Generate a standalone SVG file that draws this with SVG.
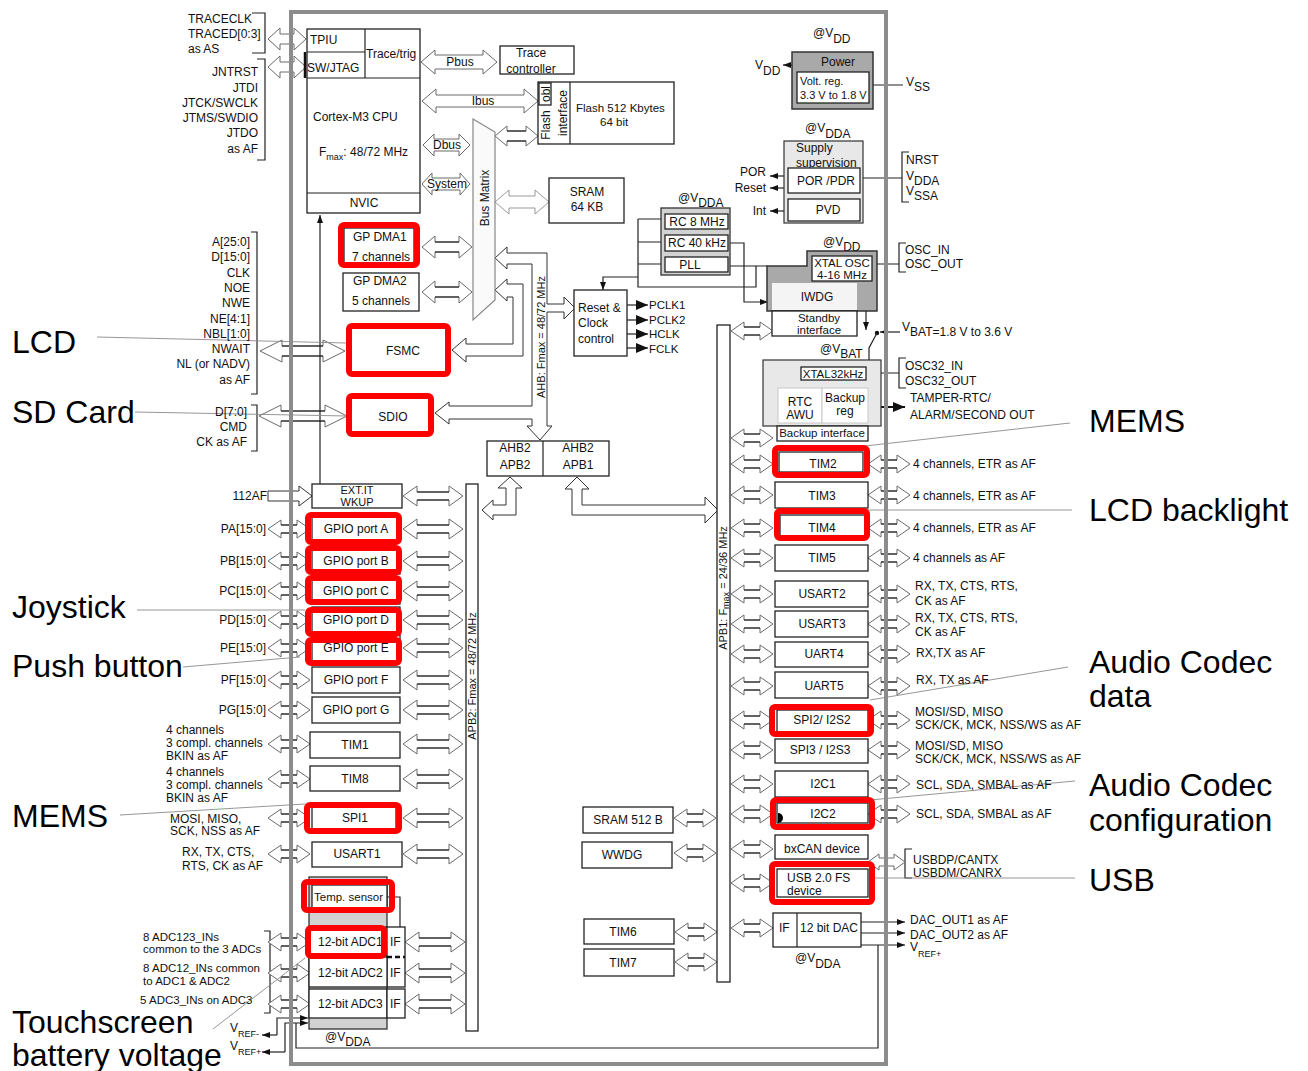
<svg xmlns="http://www.w3.org/2000/svg" width="1308" height="1071" viewBox="0 0 1308 1071">
<style>
text{font-family:"Liberation Sans",Arial,sans-serif;font-size:12px;fill:#111}
.s11{font-size:11px}
.s9{font-size:9px}
.big{font-size:32px;fill:#000}
.m{text-anchor:middle}
.r{text-anchor:end}
.bx{fill:#fff;stroke:#222;stroke-width:1.3}
.red{fill:none;stroke:#f00;stroke-width:6}
.ah{fill:#fff;stroke:#6a6a6a;stroke-width:1}
.sh{fill:none;stroke:#111;stroke-width:1.2}
.ln{fill:none;stroke:#222;stroke-width:1.2}
.ann{fill:none;stroke:#8a8a8a;stroke-width:0.9}
.g1{fill:#a9a9a9;stroke:#333;stroke-width:1.5}
.g2{fill:#d2d2d2;stroke:#333;stroke-width:1.3}
.g3{fill:#e8e8e8;stroke:#333;stroke-width:1.2}
.lt{fill:#fff;stroke:#c8c8c8;stroke-width:1}
</style>
<defs>
<g id="a42"><path class="ah" d="M0,0L13,-9V-4H29V-9L42,0L29,9V4H13V9Z"/><path class="sh" d="M13,-4H29M13,4H29"/></g>
<g id="a60"><path class="ah" d="M0,0L14,-10V-4H46V-10L60,0L46,10V4H14V10Z"/><path class="sh" d="M14,-4H46M14,4H46"/></g>
<marker id="ar" viewBox="0 0 8 6" refX="8" refY="3" markerWidth="8" markerHeight="6" markerUnits="userSpaceOnUse" orient="auto-start-reverse"><path d="M0,0L8,3L0,6Z" fill="#111"/></marker>
<marker id="ar2" viewBox="0 0 12 10" refX="12" refY="5" markerWidth="12" markerHeight="10" markerUnits="userSpaceOnUse" orient="auto-start-reverse"><path d="M0,0L12,5L0,10Z" fill="#111"/></marker>
</defs>
<rect width="1308" height="1071" fill="#fff"/>

<g id="connectors">
<!-- top pin arrows -->
<path class="ah" d="M268,39L280,28V34H294V28L306,39L294,50V44H280V50Z"/>
<path class="ah" d="M268,67L280,56V62H294V56L306,67L294,78V72H280V78Z"/>
<!-- brackets -->
<path class="ln" d="M252,13H265V53H252"/>
<path class="ln" d="M257,59H265V160H257"/>
<path class="ln" d="M251,232H257V394H251"/>
<path class="ln" d="M251,405H257V451H251"/>
<path class="ln" d="M264,931H270V1013H264"/>
<path class="ln" d="M909,152H902V202H909"/>
<path class="ln" d="M906,243H899V272H906"/>
<path class="ln" d="M906,358H899V388H906"/>
<path class="ln" d="M912,849H905V878H912"/>
<!-- CPU buses -->
<path class="ah" d="M421,62L435,50V55H483V50L497,62L483,74V69H435V74Z"/>
<path class="ah" d="M422,101L436,89V95H524V89L538,101L524,113V107H436V113Z"/>
<path class="ah" d="M423,145L434,134V139H459V134L470,145L459,156V151H434V156Z"/>
<path class="ah" d="M422,184L432,173V178H460V173L470,184L460,195V190H432V195Z"/>
<path class="ah" d="M495,136L507,126V131H526V126L538,136L526,146V141H507V146Z"/>
<path class="sh" d="M507,131H526M507,141H526"/>
<path class="ah" d="M495,202L509,190V196H535V190L549,202L535,214V208H509V214Z" style="stroke:#999"/>
<path class="ah" d="M422,247L435,236V242H459V236L472,247L459,258V252H435V258Z"/>
<path class="sh" d="M435,242H459M435,252H459"/>
<path class="ah" d="M422,292L435,281V287H459V281L472,292L459,303V297H435V303Z"/>
<path class="sh" d="M435,287H459M435,297H459"/>
<!-- AHB bus -->
<path class="ah" style="stroke:#333" d="M495,258L507,247V253H547V304H564V297L575,308L564,319V312H547V426H552L540,440L527,426H532V419H449V424L435,413L449,402V406H532V264H507V269Z"/>
<!-- FSMC L arrow -->
<path class="ah" style="stroke:#333" d="M495,290L507,279V284H523V356H466V362L452,350L466,338V344H513V297H507V301Z"/>
<!-- FSMC / SDIO pins -->
<path class="ah" d="M260,351L282,340V346H323V340L345,351L323,362V356H282V362Z"/>
<path class="sh" d="M282,346H323M282,356H323"/>
<path class="ah" d="M259,416L281,405V411H325V405L347,416L325,427V421H281V427Z"/>
<path class="sh" d="M281,411H325M281,421H325"/>
<!-- EXT IT -->
<path class="ah" style="stroke:#333" d="M268,491H299V486L312,496L299,506V501H268Z"/>
<path class="ln" d="M320,484V215" marker-end="url(#ar)"/>
<!-- left pins -->
<use href="#a60" x="403" y="496"/>
<use href="#a42" x="268" y="529"/><use href="#a60" x="403" y="529"/>
<use href="#a42" x="268" y="561"/><use href="#a60" x="403" y="561"/>
<use href="#a42" x="268" y="591"/><use href="#a60" x="403" y="591"/>
<use href="#a42" x="268" y="620"/><use href="#a60" x="403" y="620"/>
<use href="#a42" x="268" y="648"/><use href="#a60" x="403" y="648"/>
<use href="#a42" x="268" y="680"/><use href="#a60" x="403" y="680"/>
<use href="#a42" x="268" y="710"/><use href="#a60" x="403" y="710"/>
<use href="#a42" x="268" y="744"/><use href="#a60" x="403" y="744"/>
<use href="#a42" x="268" y="779"/><use href="#a60" x="403" y="779"/>
<use href="#a42" x="268" y="818"/><use href="#a60" x="403" y="818"/>
<use href="#a42" x="268" y="854"/><use href="#a60" x="403" y="854"/>
<use href="#a42" x="268" y="942"/><use href="#a60" x="405" y="942"/>
<use href="#a42" x="268" y="973"/><use href="#a60" x="405" y="973"/>
<use href="#a42" x="268" y="1004"/><use href="#a60" x="405" y="1004"/>
<!-- bridges to APB buses -->
<path class="ah" style="stroke:#333" d="M510,477L522,488H516V515H493V520L482,510L493,500V505H506V488H498Z"/>
<path class="ah" style="stroke:#333" d="M577,477L589,489H582V505H705V497L718,510L705,523V515H572V489H565Z"/>
<!-- clock tree -->
<path class="ln" d="M638,219V287H756V266M638,219H665M638,242H665M638,264H665M728,266H767"/>
<path class="ln" d="M638,277H603V290" marker-end="url(#ar)"/>
<path class="ln" d="M728,243H744V302H768" marker-end="url(#ar)"/>
<path class="ln" d="M627,305H648" marker-end="url(#ar2)"/>
<path class="ln" d="M627,320H648" marker-end="url(#ar2)"/>
<path class="ln" d="M627,334H648" marker-end="url(#ar2)"/>
<path class="ln" d="M627,348H648" marker-end="url(#ar2)"/>
<!-- power -->
<path class="ln" d="M792,65H783" marker-end="url(#ar)"/>
<path class="ln" d="M873,85H903M863,178H902M872,264H899M866,373H899"/>
<path class="ln" d="M784,176H770" marker-end="url(#ar)"/>
<path class="ln" d="M784,188H770" marker-end="url(#ar)"/>
<path class="ln" d="M784,211H770" marker-end="url(#ar)"/>
<path class="ln" d="M866,311V330" marker-end="url(#ar)"/>
<path class="ln" d="M900,332H880" marker-end="url(#ar)"/>
<circle cx="877" cy="333" r="2.2" fill="#111"/>
<path class="ln" d="M877,333L869,348V360"/>
<path class="ln" d="M801,374H793V388" marker-end="url(#ar)"/>
<path d="M868,407H905" stroke="#111" stroke-width="2" marker-start="url(#ar2)" marker-end="url(#ar2)"/>
<!-- APB1 side -->
<use href="#a42" x="731" y="331"/><use href="#a42" x="731" y="438"/>
<use href="#a42" x="731" y="464"/><use href="#a42" x="868" y="464"/>
<use href="#a42" x="731" y="495"/><use href="#a42" x="868" y="495"/>
<use href="#a42" x="731" y="528"/><use href="#a42" x="868" y="528"/>
<use href="#a42" x="731" y="558"/><use href="#a42" x="868" y="558"/>
<use href="#a42" x="731" y="594"/><use href="#a42" x="868" y="594"/>
<use href="#a42" x="731" y="624"/><use href="#a42" x="868" y="624"/>
<use href="#a42" x="731" y="654"/><use href="#a42" x="868" y="654"/>
<use href="#a42" x="731" y="686"/><use href="#a42" x="868" y="686"/>
<use href="#a42" x="731" y="720"/><use href="#a42" x="868" y="720"/>
<use href="#a42" x="731" y="750"/><use href="#a42" x="868" y="750"/>
<use href="#a42" x="731" y="784"/><use href="#a42" x="868" y="784"/>
<use href="#a42" x="731" y="814"/><use href="#a42" x="868" y="814"/>
<use href="#a42" x="731" y="849"/>
<use href="#a42" x="731" y="883"/>
<use href="#a42" x="731" y="928"/>
<path class="ah" d="M868,862L879,854V858H894V854L905,862L894,870V866H879V870Z"/>
<use href="#a42" x="674" y="818"/>
<use href="#a42" x="674" y="853"/>
<use href="#a42" x="675" y="932"/>
<use href="#a42" x="675" y="962"/>
<!-- DAC outputs and VREF -->
<path class="ln" d="M861,922H905" marker-end="url(#ar)"/>
<path class="ln" d="M861,933H905" marker-end="url(#ar)"/>
<path class="ln" d="M861,945H905" marker-end="url(#ar)"/>
<path class="ln" d="M878,945V1048H296V1023"/>
<path class="ln" d="M387,897H400V927"/>
<path class="ln" d="M277,1035H262" marker-end="url(#ar)"/>
<path class="ln" d="M277,1035V1018H308" marker-end="url(#ar)"/>
<path class="ln" d="M285,1052H262" marker-end="url(#ar)"/>
<path class="ln" d="M285,1052V1023H308" marker-end="url(#ar)"/>
<!-- annotation leader lines -->
<path class="ann" d="M97,337L347,343M135,412L347,416M137,610L305,610M183,667L300,657M120,815L305,804M213,1029L305,958M865,446L1070,423M868,510L1072,510M870,700L1068,667M870,800L1075,781M870,878L1075,878"/>
</g>

<g id="pins-trace">
<text x="188" y="23">TRACECLK</text>
<text x="188" y="38">TRACED[0:3]</text>
<text x="188" y="53">as AS</text>
</g>
<g id="pins-jtag">
<text class="r" x="258" y="76">JNTRST</text>
<text class="r" x="258" y="92">JTDI</text>
<text class="r" x="258" y="107">JTCK/SWCLK</text>
<text class="r" x="258" y="122">JTMS/SWDIO</text>
<text class="r" x="258" y="137">JTDO</text>
<text class="r" x="258" y="153">as AF</text>
</g>

<g id="cpu">
<rect class="bx" x="307" y="29" width="113" height="184"/>
<path class="ln" d="M365,29V78M307,52H365M307,78H420M307,193H420"/>
<path d="M305,52V78" stroke="#111" stroke-width="2.5"/>
<text x="310" y="44">TPIU</text>
<text x="307" y="72">SW/JTAG</text>
<text x="366" y="58">Trace/trig</text>
<text x="313" y="121">Cortex-M3 CPU</text>
<text x="319" y="156">F<tspan class="s9" dy="4">max</tspan><tspan dy="-4">: 48/72 MHz</tspan></text>
<text class="m" x="364" y="207">NVIC</text>
</g>
<g id="bus-labels">
<text class="m" x="460" y="66">Pbus</text>
<text class="m" x="483" y="105">Ibus</text>
<text class="m" x="447" y="149">Dbus</text>
<text class="m" x="447" y="188">System</text>
</g>
<g id="trace-controller">
<rect class="bx" x="500" y="46" width="74" height="28"/>
<text class="m" x="531" y="57">Trace</text>
<text class="m" x="531" y="73">controller</text>
</g>
<g id="flash">
<rect class="bx" x="538" y="82" width="136" height="62"/>
<path class="ln" d="M570,82V144"/>
<rect class="bx" x="539" y="83" width="12" height="22"/>
<text class="m" transform="translate(550,94) rotate(-90)">obl</text>
<text class="m" transform="translate(550,125) rotate(-90)">Flash</text>
<text class="m" transform="translate(567,113) rotate(-90)">interface</text>
<text x="576" y="112" style="font-size:11.5px">Flash 512 Kbytes</text>
<text x="600" y="126" style="font-size:11.5px">64 bit</text>
</g>
<g id="bus-matrix">
<path d="M473,119L495,132V300L473,320Z" fill="#fafafa" stroke="#888" stroke-width="1.2"/>
<text class="m" transform="translate(489,198) rotate(-90)">Bus Matrix</text>
</g>
<g id="sram">
<rect class="bx" x="549" y="178" width="75" height="45"/>
<text class="m" x="587" y="196">SRAM</text>
<text class="m" x="587" y="211">64 KB</text>
</g>
<g id="ahb-label">
<text class="m s11" transform="translate(545,337) rotate(-90)">AHB: Fmax = 48/72 MHz</text>
</g>
<g id="dma1">
<rect class="bx" x="344" y="228" width="70" height="36"/>
<text x="353" y="241">GP DMA1</text>
<text x="352" y="261">7 channels</text>
<rect class="red" x="341" y="225" width="76" height="40" rx="3"/>
</g>
<g id="dma2">
<rect class="bx" x="343" y="273" width="76" height="38"/>
<text x="353" y="285">GP DMA2</text>
<text x="352" y="305">5 channels</text>
</g>
<g id="fsmc">
<rect class="bx" x="349" y="326" width="99" height="48"/>
<text class="m" x="403" y="355">FSMC</text>
<rect class="red" x="349" y="326" width="99" height="48" rx="3"/>
</g>
<g id="sdio">
<rect class="bx" x="349" y="396" width="82" height="38"/>
<text class="m" x="393" y="421">SDIO</text>
<rect class="red" x="349" y="396" width="82" height="38" rx="3"/>
</g>
<g id="pins-fsmc">
<text class="r" x="250" y="246">A[25:0]</text>
<text class="r" x="250" y="261">D[15:0]</text>
<text class="r" x="250" y="277">CLK</text>
<text class="r" x="250" y="292">NOE</text>
<text class="r" x="250" y="307">NWE</text>
<text class="r" x="250" y="323">NE[4:1]</text>
<text class="r" x="250" y="338">NBL[1:0]</text>
<text class="r" x="250" y="353">NWAIT</text>
<text class="r" x="250" y="368">NL (or NADV)</text>
<text class="r" x="250" y="384">as AF</text>
</g>
<g id="pins-sdio">
<text class="r" x="247" y="416">D[7:0]</text>
<text class="r" x="247" y="431">CMD</text>
<text class="r" x="247" y="446">CK as AF</text>
</g>
<g id="reset-clock">
<rect class="bx" x="574" y="290" width="53" height="66"/>
<text x="578" y="312">Reset &amp;</text>
<text x="578" y="327">Clock</text>
<text x="578" y="343">control</text>
<text x="649" y="309" style="font-size:11.5px">PCLK1</text>
<text x="649" y="324" style="font-size:11.5px">PCLK2</text>
<text x="649" y="338" style="font-size:11.5px">HCLK</text>
<text x="649" y="353" style="font-size:11.5px">FCLK</text>
</g>
<g id="ahb-bridges">
<rect class="bx" x="487" y="441" width="122" height="35"/>
<path class="ln" d="M543,441V476"/>
<text class="m" x="515" y="452">AHB2</text>
<text class="m" x="515" y="469">APB2</text>
<text class="m" x="578" y="452">AHB2</text>
<text class="m" x="578" y="469">APB1</text>
</g>
<g id="rc-osc">
<text x="678" y="202">@V<tspan dy="5">DDA</tspan></text>
<rect class="g2" x="661" y="208" width="69" height="67"/>
<rect class="bx" x="665" y="214" width="63" height="15"/>
<text class="m" x="697" y="226">RC 8 MHz</text>
<rect class="bx" x="665" y="235" width="63" height="16"/>
<text class="m" x="697" y="247">RC 40 kHz</text>
<rect class="bx" x="665" y="257" width="63" height="15"/>
<text class="m" x="690" y="269">PLL</text>
</g>
<g id="xtal-osc">
<text x="823" y="246">@V<tspan dy="5">DD</tspan></text>
<path class="g1" d="M807,251H877V311H767V266H807Z"/>
<rect class="bx" x="812" y="256" width="60" height="25"/>
<text class="m" x="842" y="267" style="font-size:11.5px">XTAL OSC</text>
<text class="m" x="842" y="279" style="font-size:11.5px">4-16 MHz</text>
<rect x="772" y="283" width="85" height="27" fill="#f4f4f4"/>
<text class="m" x="817" y="301">IWDG</text>
<rect class="bx" x="772" y="311" width="85" height="25"/>
<text class="m" x="819" y="322" style="font-size:11.5px">Standby</text>
<text class="m" x="819" y="334" style="font-size:11.5px">interface</text>
<text x="905" y="254">OSC_IN</text>
<text x="905" y="268">OSC_OUT</text>
</g>
<g id="power">
<text x="813" y="37">@V<tspan dy="6">DD</tspan></text>
<rect class="g1" x="792" y="52" width="81" height="57"/>
<text class="m" x="838" y="66">Power</text>
<rect class="bx" x="797" y="72" width="72" height="31"/>
<text x="800" y="85" class="s11">Volt. reg.</text>
<text x="800" y="99" class="s11">3.3 V to 1.8 V</text>
<text x="755" y="69">V<tspan dy="6">DD</tspan></text>
<text x="906" y="86">V<tspan dy="5">SS</tspan></text>
</g>
<g id="supply">
<text x="805" y="132">@V<tspan dy="6">DDA</tspan></text>
<rect class="g3" x="784" y="141" width="79" height="82"/>
<text x="796" y="152">Supply</text>
<text x="796" y="167">supervision</text>
<rect class="bx" x="788" y="168" width="72" height="25"/>
<text class="m" x="826" y="185">POR /PDR</text>
<rect class="bx" x="788" y="199" width="72" height="22"/>
<text class="m" x="828" y="214">PVD</text>
<text class="r" x="766" y="176">POR</text>
<text class="r" x="766" y="192">Reset</text>
<text class="r" x="766" y="215">Int</text>
<text x="906" y="164">NRST</text>
<text x="906" y="180">V<tspan dy="5">DDA</tspan></text>
<text x="906" y="195">V<tspan dy="5">SSA</tspan></text>
</g>
<g id="vbat">
<text x="902" y="331">V<tspan dy="5">BAT=1.8 V to 3.6 V</tspan></text>
<text x="820" y="353">@V<tspan dy="5">BAT</tspan></text>
<rect class="g3" x="763" y="360" width="118" height="66"/>
<rect class="bx" x="801" y="367" width="65" height="13"/>
<text class="m" x="833" y="378" style="font-size:11.5px">XTAL32kHz</text>
<rect class="lt" x="778" y="388" width="44" height="35"/>
<text class="m" x="800" y="406">RTC</text>
<text class="m" x="800" y="419">AWU</text>
<rect class="lt" x="822" y="388" width="46" height="35"/>
<text class="m" x="845" y="402">Backup</text>
<text class="m" x="845" y="415">reg</text>
<rect class="bx" x="777" y="426" width="91" height="15"/>
<text class="m" x="822" y="437" style="font-size:11.5px">Backup interface</text>
<text x="905" y="370">OSC32_IN</text>
<text x="905" y="385">OSC32_OUT</text>
<text x="910" y="402">TAMPER-RTC/</text>
<text x="910" y="419">ALARM/SECOND OUT</text>
</g>

<g id="apb2-bus">
<rect class="bx" x="466" y="484" width="12" height="547"/>
<text class="m s11" transform="translate(476,676) rotate(-90)">APB2: Fmax = 48/72 MHz</text>
</g>
<g id="apb1-bus">
<rect class="bx" x="717" y="325" width="13" height="657"/>
<text class="m s11" transform="translate(727,588) rotate(-90)">APB1: F<tspan class="s9" dy="2">max</tspan><tspan dy="-2"> = 24/36 MHz</tspan></text>
</g>

<g id="extit">
<rect class="bx" x="312" y="484" width="90" height="24"/>
<text class="m s11" x="357" y="494">EXT.IT</text>
<text class="m s11" x="357" y="506">WKUP</text>
<text class="r" x="267" y="500">112AF</text>
</g>
<g id="gpio">
<rect class="bx" x="312" y="516" width="88" height="26"/><text class="m" x="356" y="533">GPIO port A</text>
<rect class="bx" x="312" y="548" width="88" height="26"/><text class="m" x="356" y="565">GPIO port B</text>
<rect class="bx" x="312" y="578" width="88" height="26"/><text class="m" x="356" y="595">GPIO port C</text>
<rect class="bx" x="312" y="607" width="88" height="26"/><text class="m" x="356" y="624">GPIO port D</text>
<rect class="bx" x="312" y="635" width="88" height="26"/><text class="m" x="356" y="652">GPIO port E</text>
<rect class="bx" x="312" y="667" width="88" height="26"/><text class="m" x="356" y="684">GPIO port F</text>
<rect class="bx" x="312" y="697" width="88" height="26"/><text class="m" x="356" y="714">GPIO port G</text>
<rect class="red" x="308" y="515" width="91" height="27" rx="3"/>
<rect class="red" x="308" y="548" width="91" height="24" rx="3"/>
<rect class="red" x="308" y="578" width="91" height="24" rx="3"/>
<rect class="red" x="308" y="610" width="91" height="24" rx="3"/>
<rect class="red" x="308" y="640" width="91" height="23" rx="3"/>
<text class="r" x="266" y="533">PA[15:0]</text>
<text class="r" x="266" y="565">PB[15:0]</text>
<text class="r" x="266" y="595">PC[15:0]</text>
<text class="r" x="266" y="624">PD[15:0]</text>
<text class="r" x="266" y="652">PE[15:0]</text>
<text class="r" x="266" y="684">PF[15:0]</text>
<text class="r" x="266" y="714">PG[15:0]</text>
</g>
<g id="tim1">
<rect class="bx" x="310" y="732" width="90" height="26"/><text class="m" x="355" y="749">TIM1</text>
<text x="166" y="734">4 channels</text><text x="166" y="747">3 compl. channels</text><text x="166" y="760">BKIN as AF</text>
</g>
<g id="tim8">
<rect class="bx" x="310" y="766" width="90" height="25"/><text class="m" x="355" y="783">TIM8</text>
<text x="166" y="776">4 channels</text><text x="166" y="789">3 compl. channels</text><text x="166" y="802">BKIN as AF</text>
</g>
<g id="spi1">
<rect class="bx" x="312" y="807" width="84" height="23"/><text class="m" x="355" y="822">SPI1</text>
<rect class="red" x="307" y="805" width="92" height="26" rx="3"/>
<text x="170" y="823">MOSI, MISO,</text><text x="170" y="835">SCK, NSS as AF</text>
</g>
<g id="usart1">
<rect class="bx" x="312" y="842" width="90" height="25"/><text class="m" x="357" y="858">USART1</text>
<text x="182" y="856">RX, TX, CTS,</text><text x="182" y="870">RTS, CK as AF</text>
</g>
<g id="adc">
<rect class="g2" x="309" y="877" width="78" height="152"/>
<rect class="bx" x="312" y="885" width="75" height="23"/>
<text x="314" y="901" style="font-size:11.5px">Temp. sensor</text>
<rect class="red" x="304" y="882" width="88" height="28" rx="3"/>
<rect class="bx" x="309" y="927" width="78" height="30"/>
<rect class="bx" x="387" y="927" width="18" height="60"/>
<rect class="bx" x="309" y="957" width="78" height="30"/>
<rect class="bx" x="309" y="989" width="78" height="29"/>
<rect class="bx" x="387" y="989" width="18" height="29"/>
<path d="M387,957H405" stroke="#111" stroke-width="2.5" stroke-dasharray="5,3"/>
<text x="318" y="946">12-bit ADC1</text><text x="390" y="946">IF</text>
<text x="318" y="977">12-bit ADC2</text><text x="390" y="977">IF</text>
<text x="318" y="1008">12-bit ADC3</text><text x="390" y="1008">IF</text>
<rect class="red" x="308" y="928" width="76" height="28" rx="3"/>
<text x="143" y="941" style="font-size:11.5px">8 ADC123_INs</text>
<text x="143" y="953" style="font-size:11.5px">common to the 3 ADCs</text>
<text x="143" y="972" style="font-size:11.5px">8 ADC12_INs common</text>
<text x="143" y="985" style="font-size:11.5px">to ADC1 &amp; ADC2</text>
<text x="140" y="1004" style="font-size:11.5px">5 ADC3_INs on ADC3</text>
<text x="325" y="1041">@V<tspan dy="5">DDA</tspan></text>
<text x="230" y="1032">V<tspan class="s9" dy="5">REF-</tspan></text>
<text x="230" y="1050">V<tspan class="s9" dy="5">REF+</tspan></text>
</g>

<g id="apb1-periph">
<rect class="bx" x="779" y="452" width="84" height="20"/><text class="m" x="823" y="468">TIM2</text>
<rect class="red" x="775" y="448" width="92" height="27" rx="3"/>
<rect class="bx" x="775" y="482" width="93" height="26"/><text class="m" x="822" y="500">TIM3</text>
<rect class="bx" x="780" y="515" width="86" height="21"/><text class="m" x="822" y="532">TIM4</text>
<rect class="red" x="777" y="511" width="90" height="27" rx="3"/>
<rect class="bx" x="775" y="545" width="93" height="26"/><text class="m" x="822" y="562">TIM5</text>
<rect class="bx" x="775" y="581" width="93" height="26"/><text class="m" x="822" y="598">USART2</text>
<rect class="bx" x="775" y="611" width="93" height="26"/><text class="m" x="822" y="628">USART3</text>
<rect class="bx" x="775" y="642" width="93" height="25"/><text class="m" x="824" y="658">UART4</text>
<rect class="bx" x="775" y="672" width="93" height="26"/><text class="m" x="824" y="690">UART5</text>
<rect class="bx" x="777" y="710" width="91" height="22"/><text class="m" x="822" y="724">SPI2/ I2S2</text>
<rect class="red" x="772" y="707" width="99" height="27" rx="3"/>
<rect class="bx" x="775" y="739" width="93" height="24"/><text class="m" x="820" y="754">SPI3 / I2S3</text>
<rect class="bx" x="775" y="771" width="93" height="26"/><text class="m" x="823" y="788">I2C1</text>
<rect class="bx" x="777" y="803" width="91" height="20"/><text class="m" x="823" y="818">I2C2</text>
<path d="M778,813a5,5 0 0 1 0,10Z" fill="#000"/>
<rect class="red" x="773" y="800" width="99" height="27" rx="3"/>
<rect class="bx" x="775" y="835" width="93" height="24"/><text class="m" x="822" y="853">bxCAN device</text>
<rect class="bx" x="777" y="869" width="91" height="28"/><text x="787" y="882">USB 2.0 FS</text><text x="787" y="895">device</text>
<rect class="red" x="772" y="864" width="100" height="38" rx="3"/>
<rect class="bx" x="773" y="913" width="88" height="34"/><path class="ln" d="M797,913V947"/>
<text x="779" y="932">IF</text><text class="m" x="829" y="932">12 bit DAC</text>
<text x="795" y="962">@V<tspan dy="6">DDA</tspan></text>
</g>
<g id="apb1-pins">
<text x="913" y="468">4 channels, ETR as AF</text>
<text x="913" y="500">4 channels, ETR as AF</text>
<text x="913" y="532">4 channels, ETR as AF</text>
<text x="913" y="562">4 channels as AF</text>
<text x="915" y="590">RX, TX, CTS, RTS,</text><text x="915" y="605">CK as AF</text>
<text x="915" y="622">RX, TX, CTS, RTS,</text><text x="915" y="636">CK as AF</text>
<text x="916" y="657">RX,TX as AF</text>
<text x="916" y="684">RX, TX as AF</text>
<text x="915" y="716">MOSI/SD, MISO</text><text x="915" y="729">SCK/CK, MCK, NSS/WS as AF</text>
<text x="915" y="750">MOSI/SD, MISO</text><text x="915" y="763">SCK/CK, MCK, NSS/WS as AF</text>
<text x="916" y="789">SCL, SDA, SMBAL as AF</text>
<text x="916" y="818">SCL, SDA, SMBAL as AF</text>
<text x="913" y="864">USBDP/CANTX</text><text x="913" y="877">USBDM/CANRX</text>
<text x="910" y="924">DAC_OUT1 as AF</text>
<text x="910" y="939">DAC_OUT2 as AF</text>
<text x="910" y="951">V<tspan class="s9" dy="6">REF+</tspan></text>
</g>
<g id="sram512"><rect class="bx" x="583" y="807" width="90" height="26"/><text class="m" x="628" y="824">SRAM 512 B</text></g>
<g id="wwdg"><rect class="bx" x="582" y="842" width="90" height="26"/><text class="m" x="622" y="859">WWDG</text></g>
<g id="tim6"><rect class="bx" x="584" y="919" width="90" height="25"/><text class="m" x="623" y="936">TIM6</text></g>
<g id="tim7"><rect class="bx" x="584" y="949" width="90" height="27"/><text class="m" x="623" y="967">TIM7</text></g>

<g id="chip-border">
<rect x="291" y="12" width="595" height="1052" fill="none" stroke="#8c8c8c" stroke-width="4"/>
</g>

<g id="annotations">
<text class="big" x="12" y="353">LCD</text>
<text class="big" x="12" y="423">SD Card</text>
<text class="big" x="12" y="618">Joystick</text>
<text class="big" x="12" y="677">Push button</text>
<text class="big" x="12" y="827">MEMS</text>
<text class="big" x="12" y="1033">Touchscreen</text>
<text class="big" x="12" y="1066">battery voltage</text>
<text class="big" x="1089" y="432">MEMS</text>
<text class="big" x="1089" y="521">LCD backlight</text>
<text class="big" x="1089" y="673">Audio Codec</text>
<text class="big" x="1089" y="707">data</text>
<text class="big" x="1089" y="796">Audio Codec</text>
<text class="big" x="1089" y="831">configuration</text>
<text class="big" x="1089" y="891">USB</text>
</g>
</svg>
